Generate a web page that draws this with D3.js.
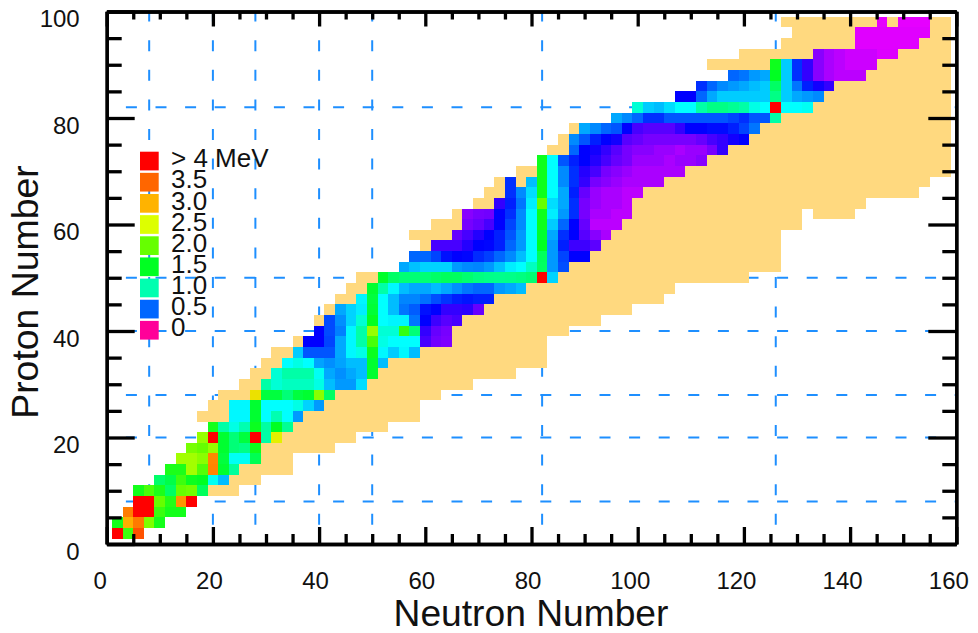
<!DOCTYPE html>
<html>
<head>
<meta charset="utf-8">
<script src="https://cdn.jsdelivr.net/npm/d3@7"></script>
<style>
  body { margin: 0; background: #fff; }
  text { font-family: "Liberation Sans", Arial, sans-serif; fill: #111; }
</style>
</head>
<body>
<div id="chart"></div>
<script>
// known-nuclei band: one row per proton number, first and last neutron number
const bandZ = [10,12,14,16,18,20,22,24,26,28,30,32,34,36,38,40,42,44,46,48,50,52,54,56,58,60,62,62,64,66,68,70,72,74,76,78,80,82,84,86,88,90,92,94,96,98];
const bandFirst = [20,24,26,30,30,34,36,18,20,22,26,28,30,32,36,40,40,42,44,46,48,56,58,60,58,62,66,134,70,72,74,78,82,84,86,88,96,100,108,112,118,114,120,128,130,128];
const bandLast = [24,28,34,34,42,46,52,58,58,62,68,76,82,82,82,86,92,98,104,106,120,126,126,126,126,130,130,140,142,152,154,158,158,158,158,158,158,158,158,158,158,158,158,158,158,158];

// even-even nuclei with a measured first 2+ energy (MeV)
const protonRows = [2,4,6,8,10,12,14,16,18,20,22,24,26,28,30,32,34,36,38,40,42,44,46,48,50,52,54,56,58,60,62,64,66,68,70,72,74,76,78,80,82,84,86,88,90,92,94,96,98];
const firstNeutron = [2,2,4,6,6,10,12,14,16,18,20,24,24,28,30,32,34,36,38,40,42,44,48,50,52,56,58,62,66,68,68,74,76,76,82,82,88,88,90,96,100,108,112,118,126,134,142,142,146];
const e2Values = [
  [4.5,1.8,3.6],
  [1.6,3.03,3.37,2.1,1.6],
  [3.35,4.4,7,1.78,1.6,1.6],
  [5.2,6.1,2.0,1.67,3.2,4.7],
  [1.6,1.87,1.63,1.27,2.0,2.05,1.3],
  [1.25,1.37,1.8,1.55,1.5,.87,.67],
  [1.63,1.63,2.25,1.9,3.3,1.45,1.07],
  [2.25,2.25,2.15,3.28,1.4,.87,.87,1.33],
  [2.07,2.0,2.2,1.45,1.2,1.15,1.57],
  [2.2,4.2,1.45,1.2,1.4,4.2,1.03,2.6],
  [1.6,1.03,.9,1.0,1.55,1.05,1.5,1.1],
  [.83,.83,1.45,.85,1.0,.85,.6],
  [.83,.83,1.45,.85,.85,.85,.9,.72,.6],
  [2.7,1.4,1.4,1.2,1.4,1.45,2.15,1.27],
  [1.03,.93,.97,.97,.97,.9,.67,.6,.6,.75],
  [.93,1.03,1.03,1.03,.87,.63,.58,.63,.67,1.45],
  [.85,.9,.85,.62,.58,.62,.67,.67,1.45,.67],
  [.7,.45,.45,.45,.63,.83,.9,1.55,.83,.7,.83,.67],
  [.27,.27,.4,.63,.83,1.03,1.85,.9,.85,.85,.85,.18,.14,.13],
  [.27,.42,.55,.83,1.03,2.2,.93,.93,1.75,1.2,.2,.15,.135],
  [.42,.58,.72,.93,1.52,.85,.82,.82,.53,.27,.19,.165,.18],
  [.63,.72,.8,1.43,.85,.67,.53,.47,.3,.27,.2,.2,.21,.15],
  [.82,1.4,.85,.67,.56,.56,.52,.43,.37,.33,.31,.33,.33],
  [1.45,1.03,.83,.67,.63,.63,.67,.63,.58,.53,.5,.5,.6,.63,.67],
  [1.47,1.26,1.21,1.21,1.21,1.26,1.3,1.29,1.23,1.17,1.14,1.13,1.14,1.17,1.22,4.05,.72],
  [.63,.68,.72,.72,.72,.6,.57,.56,.6,.68,.8,.85,.97,1.28,.6,.43],
  [.5,.5,.4,.3,.27,.28,.35,.39,.5,.57,.67,.85,1.3,.6,.4,.27,.27],
  [.18,.18,.18,.22,.27,.28,.33,.5,.6,.85,1.5,.6,.33,.19,.19,.16],
  [.15,.18,.22,.27,.33,.45,.6,.85,1.45,.63,.36,.27,.165,.12,.09],
  [.135,.15,.18,.27,.4,.57,.85,1.57,.7,.5,.27,.15,.08,.08,.08],
  [.12,.135,.14,.27,.36,.57,.85,1.57,.8,.6,.36,.135,.09,.09,.08,.08],
  [.2,.33,.53,.8,2.0,.75,.63,.36,.135,.105,.09,.09,.08],
  [.36,.57,.75,1.57,.85,.63,.33,.15,.105,.09,.09,.08,.08],
  [.36,null,.67,1.57,.85,.57,.36,.2,.135,.12,.105,.09,.09,.09,.09],
  [1.57,.85,.57,.36,.22,.18,.135,.12,.105,.09,.09,.09,.09,.09],
  [1.57,.85,.45,.33,.27,.22,.18,.15,.135,.105,.105,.105,.09,.105,.105,.12],
  [.5,.27,.245,.2,.165,.135,.12,.12,.105,.105,.09,.105,.105,.135,.2],
  [.57,.45,.33,.27,.245,.165,.15,.135,.135,.135,.135,.135,.15,.18,.2,.245,.27],
  [.63,.57,.5,.45,.27,.18,.165,.165,.165,.2,.27,.27,.29,.29,.33,.4,.53],
  [.63,.57,.5,.36,.36,.45,.45,.45,.45,.45,.45,.4,.36,.45,.45,1.03],
  [.93,.7,.67,.75,.85,.85,1.03,1.15,1.15,1.1,1.03,.9,.85,4.1,.85,.85,.87],
  [.27,.27,.5,.63,.7,.7,.7,.7,.7,1.15,.7,.63,.6,.57],
  [.36,.5,.57,.6,.63,.67,.7,1.27,.7,.53,.33,.245,.2],
  [.5,.53,.6,.63,1.5,.7,.36,.2,.12,.09,.08,.08,.08],
  [1.57,.7,.36,.2,.12,.09,.08,.07,.07,.07],
  [.12,.09,.08,.07,.07,.07,.06,.06],
  [.058,.058,.058,.058,.058,.058],
  [.058,.058,.058,.058,.058,.058,.058],
  [.055,null,.055,.055,.055]
];

const magicN = [8,20,28,40,50,82,126];
const magicZ = [8,20,28,40,50,82];
const legendValues = [4,3.5,3,2.5,2,1.5,1,.5,0];
const legendLabels = ['> 4 MeV','3.5','3.0','2.5','2.0','1.5','1.0','0.5','0'];

const width = 978, height = 633;
const bandColor = '#ffd97f', dashColor = '#1e8fff';

const scX = d3.scaleLinear().domain([0, 160]).range([106.7, 956.3]);
const scY = d3.scaleLinear().domain([0, 100]).range([544, 11.5]);

// energy to colour, stops
const scColor = d3.scaleLinear()
  .domain([0,.04,.06,.08,.09,.12,.15,.2,.27,.4,.5,.6,.7,.85,1,1.5,2,2.5,3,3.5,4])
  .range(['#ff0099','#ff00ff','#dd00ff','#bb00ff','#aa00ff','#8800ff','#6600ff','#3300ff','#0000ff','#0044ff','#0066ff','#0099ff','#00ccff','#00ffff','#00ffb0','#00ff22','#66ff00','#ddff00','#ffb300','#ff6600','#ff0000'])
  .clamp(true);

const svg = d3.select('#chart').append('svg')
  .attr('width', width)
  .attr('height', height)
  .attr('viewBox', [0, 0, width, height])
  .style('display', 'block');

// dashed magic number lines, under the cells
const dashes = svg.append('g')
  .attr('fill', 'none')
  .attr('stroke', dashColor)
  .attr('stroke-width', 2)
  .attr('stroke-dasharray', '11,18.6')
  .attr('stroke-dashoffset', 10.4);
dashes.selectAll('.magicN').data(magicN).enter().append('line')
  .attr('x1', d => scX(d)).attr('x2', d => scX(d))
  .attr('y1', scY(0)).attr('y2', scY(100));
dashes.selectAll('.magicZ').data(magicZ).enter().append('line')
  .attr('y1', d => scY(d)).attr('y2', d => scY(d))
  .attr('x1', scX(0)).attr('x2', scX(160));

// band of known nuclei
svg.append('g').selectAll('rect')
  .data(bandZ.map((z, i) => ({z: z, first: bandFirst[i], last: bandLast[i]})))
  .enter().append('rect')
  .attr('x', d => scX(d.first - 1))
  .attr('width', d => scX(d.last + 1) - scX(d.first - 1))
  .attr('y', d => scY(d.z + 1))
  .attr('height', d => scY(d.z - 1) - scY(d.z + 1))
  .attr('fill', bandColor)
  .attr('shape-rendering', 'crispEdges');

// E(2+) cells, 2 x 2 in N and Z
const cells = [];
protonRows.forEach((z, i) => {
  e2Values[i].forEach((v, j) => {
    if (v !== null) cells.push({z: z, n: firstNeutron[i] + 2 * j, v: v});
  });
});
svg.append('g').selectAll('rect')
  .data(cells)
  .enter().append('rect')
  .attr('x', d => scX(d.n - 1))
  .attr('width', d => scX(d.n + 1) - scX(d.n - 1))
  .attr('y', d => scY(d.z + 1))
  .attr('height', d => scY(d.z - 1) - scY(d.z + 1))
  .attr('fill', d => scColor(d.v))
  .attr('shape-rendering', 'crispEdges');

// axes, major every 20 and minor every 5
const majorX = d3.range(0, 161, 20);
const minorX = d3.range(0, 161, 5).filter(d => d % 20);
const majorY = d3.range(0, 101, 20);
const minorY = d3.range(0, 101, 5).filter(d => d % 20);

function drawAxis(axis, x, y, labels) {
  const g = svg.append('g')
    .attr('transform', 'translate(' + x + ',' + y + ')')
    .attr('font-family', null)
    .call(axis);
  g.attr('font-family', null);
  g.selectAll('path, line').attr('stroke', '#000').attr('stroke-width', 3.3);
  if (!labels) g.selectAll('text').remove();
  return g;
}

drawAxis(d3.axisBottom(scX).tickValues(minorX).tickSize(-10).tickSizeOuter(0), 0, scY(0));
drawAxis(d3.axisTop(scX).tickValues(minorX).tickSize(-8).tickSizeOuter(0), 0, scY(100));
drawAxis(d3.axisLeft(scY).tickValues(minorY).tickSize(-15).tickSizeOuter(0), scX(0), 0);
drawAxis(d3.axisRight(scY).tickValues(minorY).tickSize(-14).tickSizeOuter(0), scX(160), 0);
drawAxis(d3.axisTop(scX).tickValues(majorX).tickSize(-15).tickSizeOuter(0), 0, scY(100));
drawAxis(d3.axisRight(scY).tickValues(majorY).tickSize(-28).tickSizeOuter(0), scX(160), 0);

const xAxis = drawAxis(d3.axisBottom(scX).tickValues(majorX).tickSize(-17).tickSizeOuter(0).tickPadding(28), 0, scY(0), true);
xAxis.selectAll('text').attr('font-size', 24).attr('dx', d => d === 0 ? -7 : d < 100 ? -4 : -8);
const yAxis = drawAxis(d3.axisLeft(scY).tickValues(majorY).tickSize(-28).tickSizeOuter(0).tickPadding(27), scX(0), 0, true);
yAxis.selectAll('text').attr('font-size', 24).attr('dy', '0.63em');

// axis titles
svg.append('text')
  .attr('x', 531).attr('y', 626)
  .attr('text-anchor', 'middle')
  .attr('font-size', 37.2)
  .text('Neutron Number');
svg.append('text')
  .attr('transform', 'translate(38,292) rotate(-90)')
  .attr('text-anchor', 'middle')
  .attr('font-size', 37.4)
  .text('Proton Number');

// legend
const legend = svg.append('g').selectAll('g')
  .data(legendValues)
  .enter().append('g')
  .attr('transform', (d, i) => 'translate(140,' + (151.7 + i * 21.15) + ')');
legend.append('rect')
  .attr('width', 18.7)
  .attr('height', 18.7)
  .attr('fill', d => scColor(d));
legend.append('text')
  .attr('x', 31)
  .attr('y', 15.5)
  .attr('font-size', 26)
  .text((d, i) => legendLabels[i]);
</script>
</body>
</html>
